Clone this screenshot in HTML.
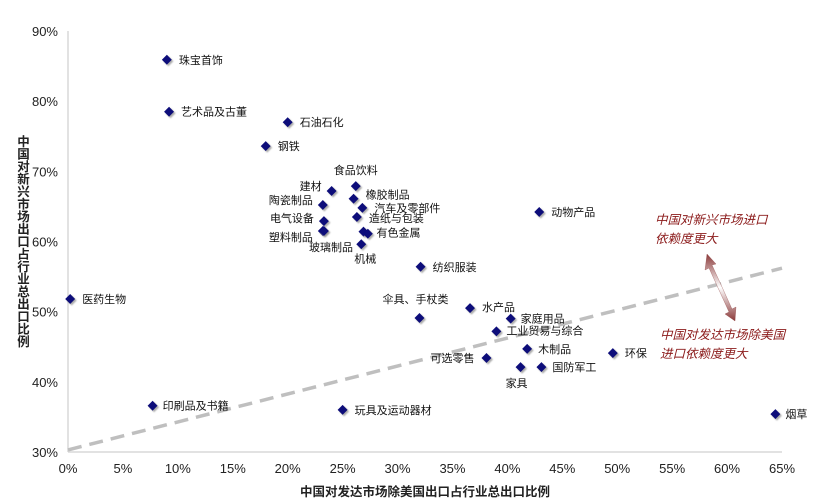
<!DOCTYPE html>
<html><head><meta charset="utf-8"><style>
body{margin:0;background:#fff;}
svg{display:block;font-family:"Liberation Sans","Noto Sans CJK SC",sans-serif;}
</style></head><body>
<svg id="chart" width="820" height="504" viewBox="0 0 820 504">
<defs>
<linearGradient id="ag" x1="0" y1="0" x2="0" y2="1">
<stop offset="0" stop-color="#8b3a3a"/><stop offset="0.5" stop-color="#ffffff"/><stop offset="1" stop-color="#8b3a3a"/>
</linearGradient>
<filter id="sh" x="-50%" y="-50%" width="200%" height="200%"><feDropShadow dx="1.5" dy="1.5" stdDeviation="0.8" flood-color="#888" flood-opacity="0.7"/></filter>
</defs>
<g id="axes"></g>
<g id="marks"></g>
</svg>
<script>
const names=["珠宝首饰","艺术品及古董","石油石化","钢铁","建材","食品饮料","橡胶制品","陶瓷制品","汽车及零部件","电气设备","造纸与包装","塑料制品","有色金属","有色金属2","机械","纺织服装","动物产品","医药生物","伞具、手杖类","水产品","家庭用品","工业贸易与综合","木制品","可选零售","家具","国防军工","环保","印刷品及书籍","玩具及运动器材","烟草","玻璃制品"];
const xVals=[9.0,9.2,20.0,18.0,24.0,26.2,26.0,23.2,26.8,23.3,26.3,23.2,26.9,27.3,26.7,32.1,42.9,0.2,32.0,36.6,40.3,39.0,41.8,38.1,41.2,43.1,49.6,7.7,25.0,64.4,23.3];
const yVals=[85.9,78.5,77.0,73.6,67.2,67.9,66.1,65.2,64.8,62.9,63.5,61.5,61.4,61.1,59.6,56.4,64.2,51.8,49.1,50.5,49.0,47.2,44.7,43.4,42.1,42.1,44.1,36.6,36.0,35.4,61.5];
// label placement [dx, dy, anchor] (style, not data)
const labelPos=[[12,4,"start"],[12,4,"start"],[12,4,"start"],[12,4,"start"],[-10,-1,"end"],[0,-12,"middle"],[12,0,"start"],[-10,-1,"end"],[12,4,"start"],[-10,1,"end"],[12,5,"start"],[-10,10,"end"],[13,5,"start"],null,[4,18,"middle"],[12,4,"start"],[12,4,"start"],[12,4,"start"],[-4,-15,"middle"],[12,3,"start"],[10,4,"start"],[10,3,"start"],[11,4,"start"],[-12,4,"end"],[-4,20,"middle"],[11,4,"start"],[12,4,"start"],[10,4,"start"],[12,4,"start"],[10,4,"start"],null];
const xTicks=[0,5,10,15,20,25,30,35,40,45,50,55,60,65];
const yTicks=[30,40,50,60,70,80,90];
const trend=[[0,30.3],[65,56.2]];
const X0=68,X1=782,Y0=452,Y1=31;
const sx=v=>X0+(v-0)/65*(X1-X0);
const sy=v=>Y0-(v-30)/60*(Y0-Y1);
const NS="http://www.w3.org/2000/svg";
function mk(t,a,p){const e=document.createElementNS(NS,t);for(const k in a)e.setAttribute(k,a[k]);p.appendChild(e);return e;}
const ax=document.getElementById("axes"),mg=document.getElementById("marks");
let l=mk("line",{x1:X0,y1:Y1,x2:X0,y2:Y0,stroke:"#d9d9d9","stroke-width":1.5},ax);


l=mk("line",{x1:X0,y1:Y0,x2:X1,y2:Y0,stroke:"#d9d9d9","stroke-width":1.5},ax);


xTicks.forEach(v=>{const t=mk("text",{x:sx(v),y:Y0+21,"text-anchor":"middle","font-size":13,fill:"#222"},ax);t.textContent=v+"%";

});
yTicks.forEach(v=>{const t=mk("text",{x:X0-10,y:sy(v)+5,"text-anchor":"end","font-size":13,fill:"#222"},ax);t.textContent=v+"%";

});
let t=mk("text",{x:425,y:496,"text-anchor":"middle","font-size":12.5,"font-weight":"bold",fill:"#222"},ax);t.textContent="中国对发达市场除美国出口占行业总出口比例";


const yt=mk("text",{x:22,y:241,"text-anchor":"middle","font-size":12.5,"font-weight":"bold",fill:"#222","writing-mode":"tb","glyph-orientation-vertical":0,style:"writing-mode:vertical-rl;text-orientation:upright;letter-spacing:0px"},ax);yt.textContent="中国对新兴市场出口占行业总出口比例";


l=mk("line",{x1:sx(trend[0][0]),y1:sy(trend[0][1]),x2:sx(trend[1][0]),y2:sy(trend[1][1]),stroke:"#bfbfbf","stroke-width":3.5,"stroke-dasharray":"14,8"},mg);


xVals.forEach((xv,i)=>{const cx=sx(xv),cy=sy(yVals[i]);
const d=mk("path",{d:`M${cx} ${cy-5}L${cx+5} ${cy}L${cx} ${cy+5}L${cx-5} ${cy}Z`,fill:"#0a0a7a",filter:"url(#sh)"},mg);


const lp=labelPos[i];if(lp){const tx=mk("text",{x:cx+lp[0],y:cy+lp[1],"text-anchor":lp[2],"font-size":11,fill:"#111"},mg);tx.textContent=names[i];

}});
// glass label
t=mk("text",{x:331,y:251,"text-anchor":"middle","font-size":11,fill:"#111"},mg);t.textContent="玻璃制品";


// annotations
const arr=mk("path",{d:"M707 254 L716 264 L712 265 L732 309 L736 307 L735 321 L725 314 L729 312 L709 268 L705 270 Z",fill:"url(#ag)",stroke:"#8b3a3a","stroke-width":0.3},mg);


[["中国对新兴市场进口",655,224],["依赖度更大",655,243],["中国对发达市场除美国",660,339],["进口依赖度更大",660,358]].forEach(a=>{const e=mk("text",{x:a[1],y:a[2],"font-size":12.5,"font-style":"italic",fill:"#8b1a1a"},mg);e.textContent=a[0];

});
</script>
</body></html>
